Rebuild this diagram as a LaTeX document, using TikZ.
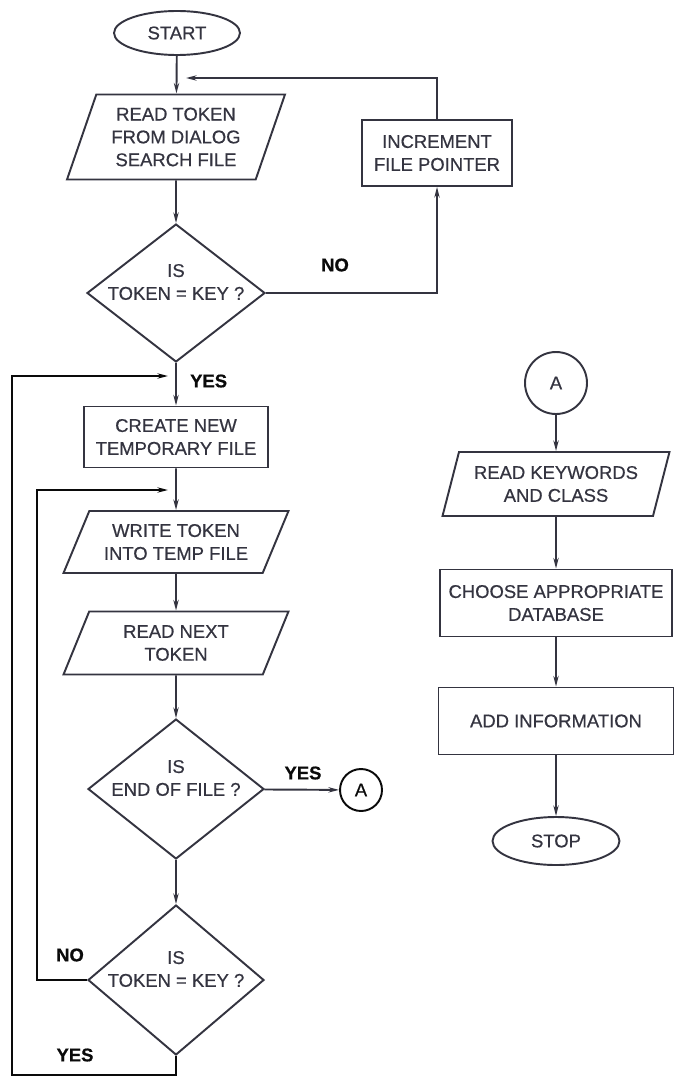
\documentclass[tikz,border=0pt]{standalone}
\usepackage{
fontspec,
tikz,
}
\usetikzlibrary{shapes.geometric,arrows.meta}
\setmainfont{Liberation Sans}[FakeBold=0.6]
\definecolor{chartInk}{RGB}{52,52,64}
\definecolor{chartLoop}{RGB}{10,10,10}

\tikzset{
  flowText/.style={font=\fontsize{10.5}{13}\selectfont, text=chartInk, align=center},
  flowLabel/.style={font=\fontsize{10.5}{13}\selectfont\bfseries, text=chartLoop},
  process/.style={flowText, draw=chartInk, line width=1.1pt, rectangle, inner sep=2pt},
  io/.style={flowText, draw=chartInk, line width=1.1pt, trapezium, trapezium stretches body,
    trapezium left angle=#1, trapezium right angle={\the\numexpr180-#1\relax}, inner sep=2pt},
  terminal/.style={flowText, draw=chartInk, line width=1.1pt, ellipse, inner sep=1pt},
  decision/.style={draw=chartInk, line width=1.1pt, diamond, inner sep=0pt},
  connector/.style={flowText, draw=chartLoop, text=chartLoop, line width=1.1pt, circle, inner sep=0pt},
  flow/.style={draw=chartInk, line width=1.1pt, -{Stealth[length=6pt,width=3pt]}},
  loopLine/.style={draw=chartLoop, line width=1.4pt, -{Stealth[length=6pt,width=3pt]}},
}

\begin{document}
\begin{tikzpicture}[x=0.02cm, y=-0.02cm]

    \useasboundingbox (0,0) rectangle (680,1078);

    % main column
    \node[terminal, minimum width=2.52cm, minimum height=0.88cm] (start) at (177,33) {START};
    \node[io=66, minimum width=4.36cm, minimum height=1.7cm] (readToken) at (176,137) {READ TOKEN\\FROM DIALOG\\SEARCH FILE};
    \node[decision, minimum width=3.56cm, minimum height=2.76cm] (isKey) at (176,293) {};
    \node[flowText] (isKeyText) at (176,282) {IS\\TOKEN = KEY ?};
    \node[process, minimum width=3.0cm, minimum height=1.32cm] (inc) at (437,153) {INCREMENT\\FILE POINTER};
    \node[process, minimum width=3.68cm, minimum height=1.22cm] (create) at (176,437) {CREATE NEW\\TEMPORARY FILE};
    \node[io=59, minimum width=4.5cm, minimum height=1.24cm] (writeTemp) at (176,542) {WRITE TOKEN\\INTO TEMP FILE};
    \node[io=59, minimum width=4.5cm, minimum height=1.26cm] (readNext) at (176,643) {READ NEXT\\TOKEN};
    \node[decision, minimum width=3.52cm, minimum height=2.8cm] (isEnd) at (176,789) {};
    \node[flowText] (isEndText) at (176,778) {IS\\END OF FILE ?};
    \node[connector, minimum size=0.84cm] (connA) at (361,790) {A};
    \node[decision, minimum width=3.52cm, minimum height=3.0cm] (isKeyAgain) at (176,980) {};
    \node[flowText] (isKeyAgainText) at (176,969) {IS\\TOKEN = KEY ?};

    % right column
    \node[connector, draw=chartInk, text=chartInk, minimum size=1.24cm] (pageA) at (556,383) {A};
    \node[io=69, minimum width=4.54cm, minimum height=1.28cm] (readKeys) at (556,484) {READ KEYWORDS\\AND CLASS};
    \node[process, minimum width=4.64cm, minimum height=1.34cm] (chooseDb) at (556,603) {CHOOSE APPROPRIATE\\DATABASE};
    \node[process, minimum width=4.7cm, minimum height=1.34cm] (addInfo) at (556,721) {ADD INFORMATION};
    \node[terminal, minimum width=2.54cm, minimum height=0.96cm] (stop) at (556,841) {STOP};

    % loop ends
    \coordinate (backIn) at (186,78);
    \coordinate (innerCorner) at (37,490);
    \coordinate (innerIn) at (168,490);
    \coordinate (outerBottom) at (176,1075);
    \coordinate (outerCorner) at (12,376);
    \coordinate (outerIn) at (168,376);

    \draw[flow] (start) -- (readToken);
    \draw[flow] (readToken) -- (isKey);
    \draw[flow] (isKey) -| (inc);
    \draw[flow] (inc) |- (backIn);
    \draw[flow] (isKey) -- (create);
    \draw[flow] (create) -- (writeTemp);
    \draw[flow] (writeTemp) -- (readNext);
    \draw[flow] (readNext) -- (isEnd);
    \draw[flow] (isEnd) -- (connA);
    \draw[flow] (isEnd) -- (isKeyAgain);
    \draw[loopLine] (isKeyAgain.west) -| (innerCorner) -- (innerIn);
    \draw[loopLine] (isKeyAgain.south) -- (outerBottom) -| (outerCorner) -- (outerIn);

    \draw[flow] (pageA) -- (readKeys);
    \draw[flow] (readKeys) -- (chooseDb);
    \draw[flow] (chooseDb) -- (addInfo);
    \draw[flow] (addInfo) -- (stop);

    % branch labels
    \node[flowLabel] (noKey) at (335,265) {NO};
    \node[flowLabel, anchor=west] (yesKey) at (184,381) {YES};
    \node[flowLabel] (yesEnd) at (303,773) {YES};
    \node[flowLabel] (noKeyAgain) at (70,955) {NO};
    \node[flowLabel] (yesKeyAgain) at (75,1055) {YES};

\end{tikzpicture}
\end{document}
